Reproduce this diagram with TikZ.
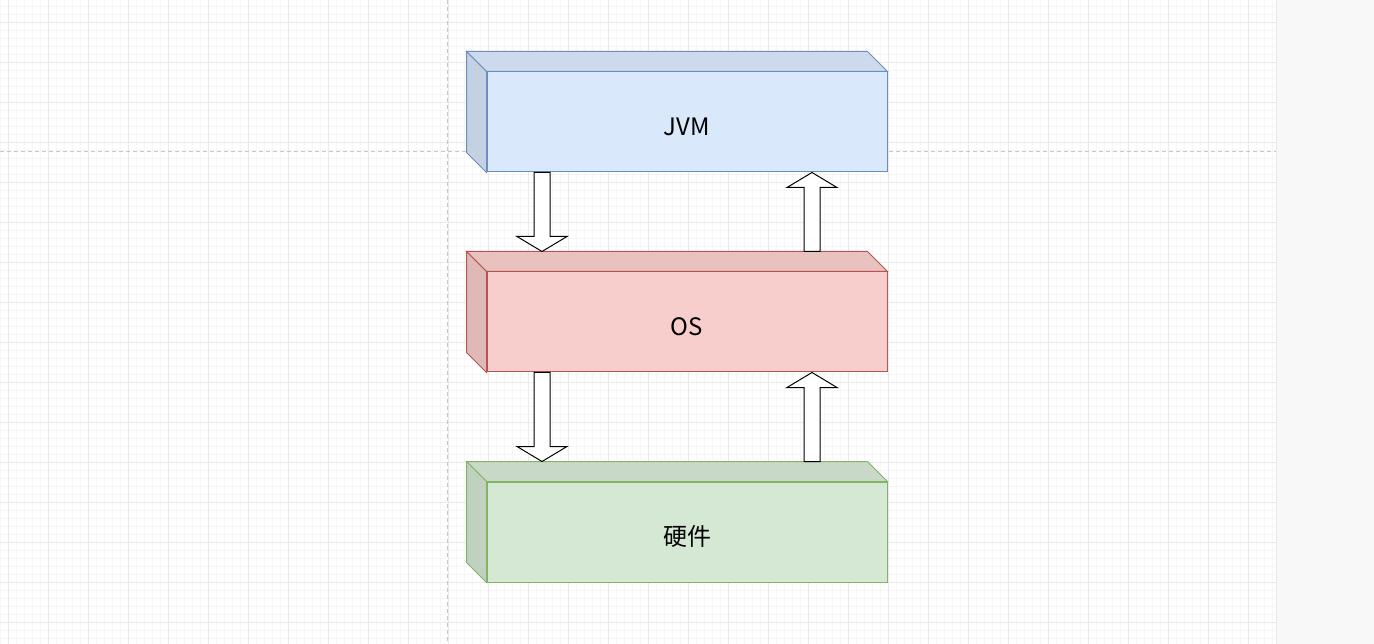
\documentclass[tikz,border=0pt]{standalone}
\usepackage{fontspec}
\usepackage{tikz}
\usetikzlibrary{calc}
\newfontfamily\cjk{Noto Sans CJK SC}

\definecolor{jvmfill}{HTML}{DAE8FC}
\definecolor{jvmline}{HTML}{6C8EBF}
\definecolor{osfill}{HTML}{F8CECC}
\definecolor{osline}{HTML}{B85450}
\definecolor{hwfill}{HTML}{D5E8D4}
\definecolor{hwline}{HTML}{82B366}
\definecolor{gridminor}{HTML}{F6F6F6}
\definecolor{gridmajor}{HTML}{EAEAEA}
\definecolor{guide}{HTML}{C6C6C6}
\definecolor{panel}{HTML}{F8F8F8}

\tikzset{
  layer/.style={draw=#1line, fill=#1fill, line width=1pt,
    minimum width=400pt, minimum height=100pt, inner sep=0pt,
    text height=27pt, text depth=0pt,
    font=\cjk\fontsize{24}{28}\selectfont},
  fatarrow/.style={draw=black, fill=white, line width=1pt, line join=miter},
}

% back faces of a layer box
\newcommand{\cubeback}[2]{%
  \draw[draw=#2line, fill=#2fill!94!black, line width=1pt]
    (#1.north west) -- ++(-20,-20) -- ($(#1.north east)+(-20,-20)$) -- (#1.north east) -- cycle;
  \draw[draw=#2line, fill=#2fill!90!black, line width=1pt]
    (#1.north west) -- ++(-20,-20) -- ($(#1.south west)+(-20,-20)$) -- (#1.south west) -- cycle;
}

% hollow block arrow from #1 to #2
\newcommand{\bigarrow}[2]{%
  \coordinate (tl) at (#1);
  \coordinate (tp) at (#2);
  \coordinate (hb) at ($(tp)!15pt!(tl)$);
  \draw[fatarrow] ($(tl)+(-8,0)$) -- ($(hb)+(-8,0)$) -- ($(hb)+(-25,0)$) -- (tp)
    -- ($(hb)+(25,0)$) -- ($(hb)+(8,0)$) -- ($(tl)+(8,0)$) -- cycle;
}

\begin{document}
\begin{tikzpicture}[x=1pt, y=-1pt]
  \useasboundingbox (0,0) rectangle (1374,644);

  % Canvas and grid
  \fill[white] (0,0) rectangle (1276,644);
  \foreach \gx in {0,8,...,1276} \draw[gridminor, line width=0.5pt] (\gx,0) -- (\gx,644);
  \foreach \gy in {6,14,...,644} \draw[gridminor, line width=0.5pt] (0,\gy) -- (1276,\gy);
  \foreach \gx in {8,48,...,1276} \draw[gridmajor, line width=0.8pt] (\gx,0) -- (\gx,644);
  \foreach \gy in {22,62,...,644} \draw[gridmajor, line width=0.8pt] (0,\gy) -- (1276,\gy);
  \draw[guide, line width=0.8pt, dash pattern=on 4pt off 3pt] (447.5,0) -- (447.5,644);
  \draw[guide, line width=0.8pt, dash pattern=on 4pt off 3pt] (0,151) -- (1276,151);

  % Side panel
  \fill[panel] (1276,0) rectangle (1374,644);
  \draw[gridmajor, line width=1pt] (1276,0) -- (1276,644);

  % Layers
  \node[layer=jvm] (jvm) at (687,122) {JVM};
  \cubeback{jvm}{jvm}
  \node[layer=os] (os) at (687,322) {OS};
  \cubeback{os}{os}
  \node[layer=hw] (hw) at (687,532) {硬件};
  \cubeback{hw}{hw}

  % Arrows between layers
  \bigarrow{$(jvm.south)+(-145,0)$}{$(os.north)+(-145,-20)$}
  \bigarrow{$(os.north)+(125,-20)$}{$(jvm.south)+(125,0)$}
  \bigarrow{$(os.south)+(-145,0)$}{$(hw.north)+(-145,-20)$}
  \bigarrow{$(hw.north)+(125,-20)$}{$(os.south)+(125,0)$}
\end{tikzpicture}
\end{document}
